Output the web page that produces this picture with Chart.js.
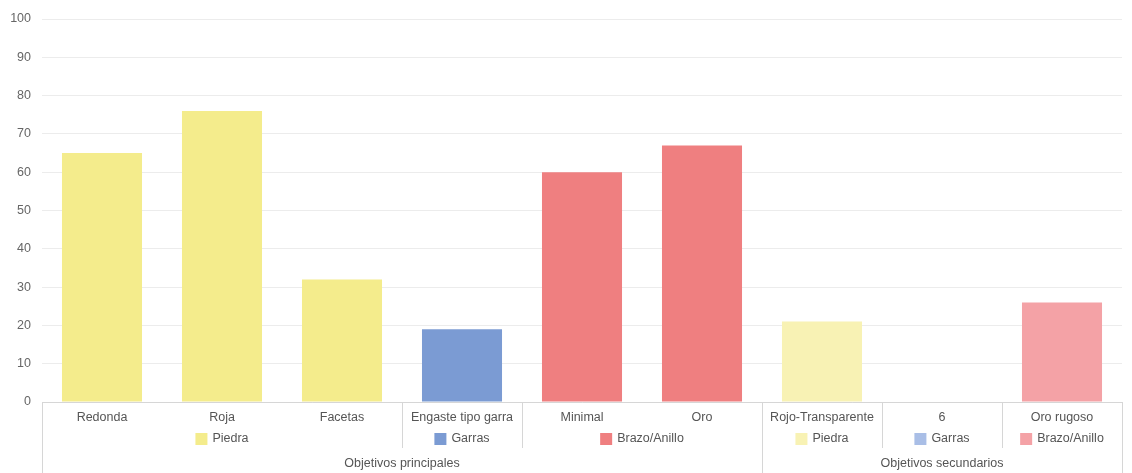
<!DOCTYPE html>
<html>
<head>
<meta charset="utf-8">
<script src="https://cdn.jsdelivr.net/npm/chart.js@4"></script>
<style>
  html, body { margin: 0; padding: 0; background: #fff; }
  #wrap { width: 1132px; height: 473px; position: relative; }
</style>
</head>
<body>
<div id="wrap"><canvas id="chart"></canvas></div>
<script>
const categories = ["Redonda", "Roja", "Facetas", "Engaste tipo garra", "Minimal", "Oro", "Rojo-Transparente", "6", "Oro rugoso"];
const values = [65, 76, 32, 19, 60, 67, 21, 0, 26];
const parts = ["Piedra", "Piedra", "Piedra", "Garras", "Brazo/Anillo", "Brazo/Anillo", "Piedra", "Garras", "Brazo/Anillo"];
const objectives = ["Objetivos principales", "Objetivos principales", "Objetivos principales", "Objetivos principales", "Objetivos principales", "Objetivos principales", "Objetivos secundarios", "Objetivos secundarios", "Objetivos secundarios"];

const mainColors = { "Piedra": "#f4ec8c", "Garras": "#7b9bd3", "Brazo/Anillo": "#ef7f80" };
const secColors = { "Piedra": "#f8f2b4", "Garras": "#a9bee6", "Brazo/Anillo": "#f4a2a6" };
const textColor = "#555";
const lineColor = "#d6d6d6";
const font = "12.5px 'Liberation Sans', Arial, sans-serif";

function colorFor(i) {
  return objectives[i] === "Objetivos principales" ? mainColors[parts[i]] : secColors[parts[i]];
}

// runs of equal values in an array -> [{label, start, end}]
function runs(arr) {
  const out = [];
  arr.forEach((v, i) => {
    const last = out[out.length - 1];
    if (last && last.label === v) last.end = i;
    else out.push({ label: v, start: i, end: i });
  });
  return out;
}

const groupAxis = {
  id: "groupAxis",
  afterDraw(chart) {
    const ctx = chart.ctx;
    const x = chart.scales.x;
    const area = chart.chartArea;
    const half = (x.getPixelForValue(1) - x.getPixelForValue(0)) / 2;
    const edge = (i) => x.getPixelForValue(i) - half;
    const bottom = chart.height;
    const row2 = area.bottom + 37;
    const row3 = area.bottom + 62;
    ctx.save();
    ctx.strokeStyle = lineColor;
    ctx.lineWidth = 1;
    ctx.font = font;
    ctx.textBaseline = "middle";
    // part rows
    const partRuns = [];
    runs(objectives).forEach((o) => {
      runs(parts.slice(o.start, o.end + 1)).forEach((p) => {
        partRuns.push({ label: p.label, start: p.start + o.start, end: p.end + o.start });
      });
    });
    partRuns.forEach((p) => {
      const l = edge(p.start), r = edge(p.end + 1);
      ctx.beginPath();
      ctx.moveTo(Math.round(l) + 0.5, area.bottom);
      ctx.lineTo(Math.round(l) + 0.5, area.bottom + 46);
      ctx.moveTo(Math.round(r) + 0.5, area.bottom);
      ctx.lineTo(Math.round(r) + 0.5, area.bottom + 46);
      ctx.stroke();
      const tw = ctx.measureText(p.label).width;
      const box = 12, gap = 5;
      const start = (l + r) / 2 - (box + gap + tw) / 2;
      ctx.fillStyle = colorFor(p.start);
      ctx.fillRect(start, row2 - 6, box, box);
      ctx.fillStyle = textColor;
      ctx.textAlign = "left";
      ctx.fillText(p.label, start + box + gap, row2);
    });
    // objective rows
    runs(objectives).forEach((o) => {
      const l = edge(o.start), r = edge(o.end + 1);
      ctx.beginPath();
      ctx.moveTo(Math.round(l) + 0.5, area.bottom);
      ctx.lineTo(Math.round(l) + 0.5, bottom);
      ctx.moveTo(Math.round(r) + 0.5, area.bottom);
      ctx.lineTo(Math.round(r) + 0.5, bottom);
      ctx.stroke();
      ctx.fillStyle = textColor;
      ctx.textAlign = "center";
      ctx.fillText(o.label, (l + r) / 2, row3);
    });
    ctx.restore();
  },
};

new Chart(document.getElementById("chart"), {
  type: "bar",
  data: {
    labels: categories,
    datasets: [
      {
        data: values,
        backgroundColor: values.map((v, i) => colorFor(i)),
        borderWidth: 0,
        barPercentage: 0.667,
        categoryPercentage: 1,
      },
    ],
  },
  options: {
    responsive: true,
    maintainAspectRatio: false,
    animation: false,
    layout: { padding: { top: 19, right: 10, left: 0, bottom: 0 } },
    plugins: { legend: { display: false }, tooltip: { enabled: false } },
    scales: {
      x: {
        grid: { display: false, drawTicks: false },
        border: { display: true, color: lineColor },
        ticks: {
          color: textColor,
          font: { family: "'Liberation Sans', Arial, sans-serif", size: 12.5 },
          padding: 8,
          maxRotation: 0,
          autoSkip: false,
        },
        afterFit(scale) { scale.height = 71; },
      },
      y: {
        min: 0,
        max: 100,
        ticks: {
          stepSize: 10,
          color: "#666",
          font: { family: "'Liberation Sans', Arial, sans-serif", size: 12.5 },
          padding: 11,
        },
        grid: { color: "#ececec", drawTicks: false },
        border: { display: false },
        afterFit(scale) { scale.width = 42; },
      },
    },
  },
  plugins: [groupAxis],
});
</script>
</body>
</html>
